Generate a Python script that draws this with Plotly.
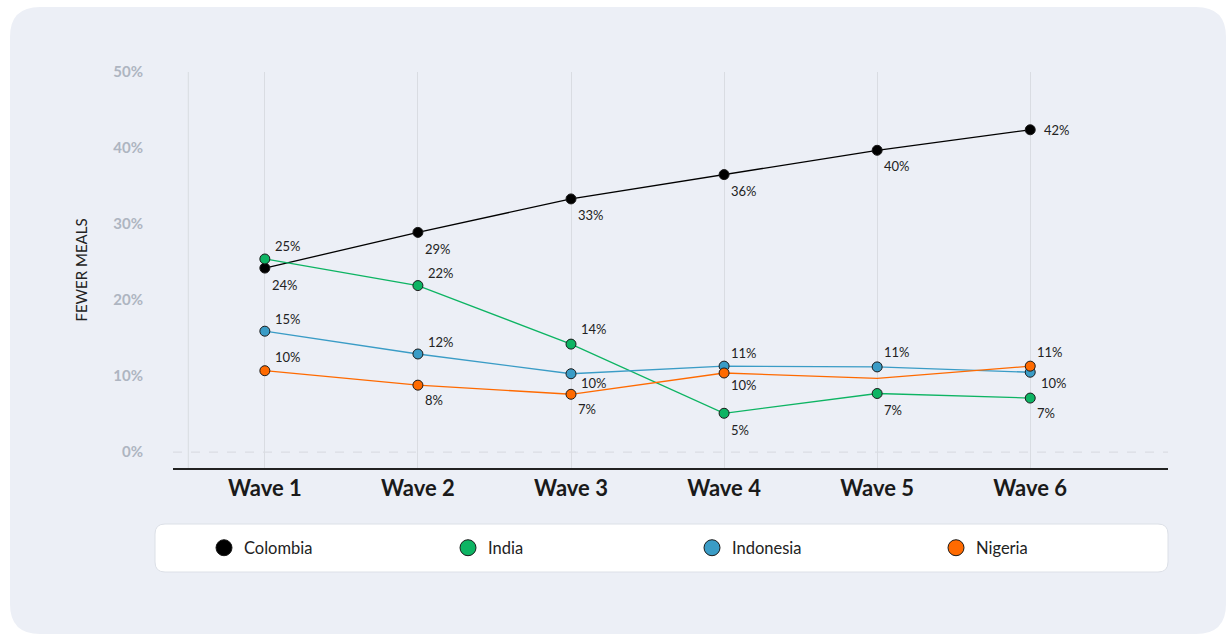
import plotly.graph_objects as go

# ---------------- data ----------------
waves = ["Wave 1", "Wave 2", "Wave 3", "Wave 4", "Wave 5", "Wave 6"]
countries = ["Colombia", "India", "Indonesia", "Nigeria"]
colombia = [24.2, 28.9, 33.3, 36.5, 39.7, 42.4]
india = [25.4, 21.9, 14.2, 5.1, 7.7, 7.1]
indonesia = [15.9, 12.9, 10.3, 11.3, 11.2, 10.5]
nigeria = [10.7, 8.8, 7.6, 10.4, 9.7, 11.3]
labels_colombia = ["24%", "29%", "33%", "36%", "40%", "42%"]
labels_india = ["25%", "22%", "14%", "5%", "7%", "7%"]
labels_indonesia = ["15%", "12%", "10%", "11%", "11%", "10%"]
labels_nigeria = ["10%", "8%", "7%", "10%", "", "11%"]
y_ticks = [0, 10, 20, 30, 40, 50]
y_tick_labels = ["0%", "10%", "20%", "30%", "40%", "50%"]

# ---------------- style ----------------
colors = {"Colombia": "#000000", "India": "#0DB463",
          "Indonesia": "#3A9CC6", "Nigeria": "#FF6A00"}
# vertical label offsets in px (positive = up)
label_dy = {
    "Colombia": [-17, -17, -16, -16, -16, 0],
    "India": [13, 13, 15, -17, -16, -15],
    "Indonesia": [12, 12, -9, 13, 15, -11],
    "Nigeria": [14, -15, -15, -12, 0, 14],
}
label_dx = {"Colombia": [5, 5, 5, 5, 5, 12], "India": [8, 8, 8, 5, 5, 5],
            "Indonesia": [8, 8, 8, 5, 5, 9], "Nigeria": [8, 5, 5, 5, 5, 5]}
marker_show = {"Nigeria": [10, 10, 10, 10, 0, 10]}

series = {"Colombia": colombia, "India": india,
          "Indonesia": indonesia, "Nigeria": nigeria}
labels = {"Colombia": labels_colombia, "India": labels_india,
          "Indonesia": labels_indonesia, "Nigeria": labels_nigeria}

W, H = 1227, 637
L, R, T, B = 173, 1168, 72, 468
FONT = "Lato"

def px(x):
    return (x - L) / (R - L)

def py(y):
    return (B - y) / (B - T)

def rounded_rect(x0, y0, x1, y1, r):
    rx = r / (R - L)
    ry = r / (B - T)
    X0, X1, Y0, Y1 = px(x0), px(x1), py(y1), py(y0)  # Y0 bottom, Y1 top
    return (f"M {X0+rx},{Y1} L {X1-rx},{Y1} Q {X1},{Y1} {X1},{Y1-ry} "
            f"L {X1},{Y0+ry} Q {X1},{Y0} {X1-rx},{Y0} L {X0+rx},{Y0} "
            f"Q {X0},{Y0} {X0},{Y0+ry} L {X0},{Y1-ry} Q {X0},{Y1} {X0+rx},{Y1} Z")

xs = list(range(len(waves)))
fig = go.Figure()

annotations = []
for name in countries:
    vals = series[name]
    sizes = marker_show.get(name, [10] * len(vals))
    fig.add_trace(go.Scatter(
        x=xs, y=vals, mode="lines+markers", name=name, showlegend=False,
        line=dict(color=colors[name], width=1.3),
        marker=dict(size=sizes, color=colors[name], opacity=1,
                    line=dict(color="#1a1a1a", width=1)),
        hoverinfo="skip"))
    for i, (v, t) in enumerate(zip(vals, labels[name])):
        if not t:
            continue
        annotations.append(dict(
            x=xs[i], y=v, text=t, showarrow=False, xanchor="left",
            yanchor="middle", xshift=label_dx[name][i], yshift=label_dy[name][i],
            font=dict(family=FONT, size=13, color="#222222")))

# legend-only traces
for name in countries:
    fig.add_trace(go.Scatter(
        x=[None], y=[None], mode="markers", name=name,
        marker=dict(size=16, color=colors[name], opacity=1,
                    line=dict(color="#1a1a1a", width=1))))

shapes = [
    # card background
    dict(type="path", xref="paper", yref="paper", layer="below",
         path=rounded_rect(10, 7, 1226, 634, 30),
         fillcolor="#ECEFF6", line=dict(width=0)),
    # legend box
    dict(type="path", xref="paper", yref="paper", layer="below",
         path=rounded_rect(155, 524, 1168, 572, 10),
         fillcolor="#FFFFFF", line=dict(color="#DCE0E7", width=1)),
    # left vertical gridline
    dict(type="line", xref="x", yref="paper", x0=-0.5, x1=-0.5, y0=0, y1=1,
         layer="below", line=dict(color="#D9DCE2", width=1)),
    # zero dashed line
    dict(type="line", xref="paper", yref="y", x0=0, x1=1, y0=0, y1=0,
         layer="below", line=dict(color="#DADDE3", width=1.3, dash="dash")),
]

fig.update_layout(
    width=W, height=H,
    margin=dict(l=L, r=W - R, t=T, b=H - B),
    paper_bgcolor="#FFFFFF", plot_bgcolor="rgba(0,0,0,0)",
    shapes=shapes, annotations=annotations,
    font=dict(family=FONT),
    showlegend=True,
    legend=dict(orientation="h", x=px(204), xanchor="left",
                y=py(548), yanchor="middle",
                bgcolor="rgba(0,0,0,0)", entrywidth=199, entrywidthmode="pixels",
                font=dict(family=FONT, size=16.5, color="#222222"),
                itemclick=False, itemdoubleclick=False),
    xaxis=dict(range=[-0.6, 5.9], tickmode="array", tickvals=xs, ticktext=waves,
               showgrid=True, gridcolor="#D9DCE2", gridwidth=1, zeroline=False,
               showline=True, linecolor="#222222", linewidth=1.5,
               ticks="", ticklabelstandoff=0,
               tickfont=dict(family=FONT, size=22, color="#1a1a1a", weight="bold"),
               fixedrange=True),
    yaxis=dict(range=[-2.1, 50], tickmode="array", tickvals=y_ticks,
               ticktext=y_tick_labels, showgrid=False, zeroline=False,
               showline=False, ticks="outside", ticklen=26,
               tickcolor="rgba(0,0,0,0)",
               tickfont=dict(family=FONT, size=15, color="#AEB5C1", weight="bold"),
               title=dict(text="FEWER MEALS", standoff=22,
                          font=dict(family=FONT, size=15, color="#222222")),
               fixedrange=True),
)

fig.write_html("out.html", config={"displayModeBar": False})
